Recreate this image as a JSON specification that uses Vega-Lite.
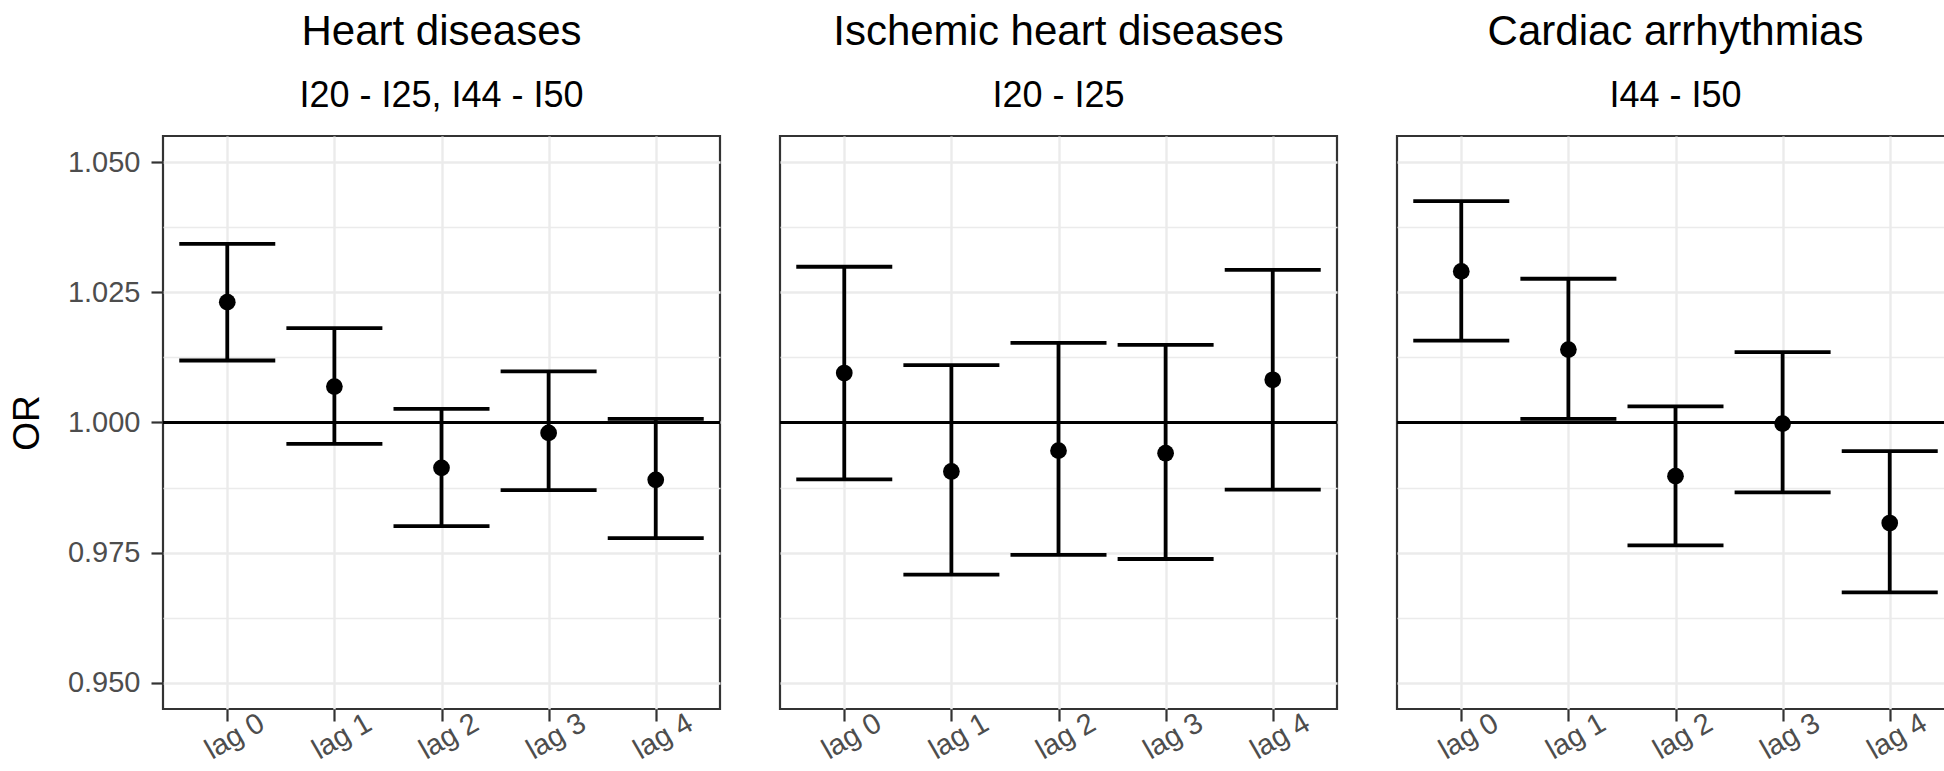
{
  "$schema": "https://vega.github.io/schema/vega-lite/v6.json",
  "background": "white",
  "padding": {"left": 6, "top": 9, "right": 5, "bottom": 3},
  "spacing": 54,
  "datasets": {
    "d": [
      {"panel": "Heart diseases", "lag": "lag 0", "lo": 1.0119, "or": 1.0231, "hi": 1.0343},
      {"panel": "Heart diseases", "lag": "lag 1", "lo": 0.9959, "or": 1.0069, "hi": 1.0181},
      {"panel": "Heart diseases", "lag": "lag 2", "lo": 0.9801, "or": 0.9913, "hi": 1.0026},
      {"panel": "Heart diseases", "lag": "lag 3", "lo": 0.9870, "or": 0.9980, "hi": 1.0098},
      {"panel": "Heart diseases", "lag": "lag 4", "lo": 0.9778, "or": 0.9890, "hi": 1.0007},
      {"panel": "Ischemic heart diseases", "lag": "lag 0", "lo": 0.9891, "or": 1.0095, "hi": 1.0299},
      {"panel": "Ischemic heart diseases", "lag": "lag 1", "lo": 0.9708, "or": 0.9906, "hi": 1.0110},
      {"panel": "Ischemic heart diseases", "lag": "lag 2", "lo": 0.9746, "or": 0.9946, "hi": 1.0153},
      {"panel": "Ischemic heart diseases", "lag": "lag 3", "lo": 0.9738, "or": 0.9941, "hi": 1.0149},
      {"panel": "Ischemic heart diseases", "lag": "lag 4", "lo": 0.9871, "or": 1.0082, "hi": 1.0293},
      {"panel": "Cardiac arrhythmias", "lag": "lag 0", "lo": 1.0157, "or": 1.0290, "hi": 1.0425},
      {"panel": "Cardiac arrhythmias", "lag": "lag 1", "lo": 1.0007, "or": 1.0140, "hi": 1.0276},
      {"panel": "Cardiac arrhythmias", "lag": "lag 2", "lo": 0.9764, "or": 0.9897, "hi": 1.0031},
      {"panel": "Cardiac arrhythmias", "lag": "lag 3", "lo": 0.9866, "or": 0.9998, "hi": 1.0135},
      {"panel": "Cardiac arrhythmias", "lag": "lag 4", "lo": 0.9674, "or": 0.9807, "hi": 0.9945}
    ]
  },
  "hconcat": [
    {
      "width": 557, "height": 573,
      "title": {"text": "Heart diseases", "subtitle": "I20 - I25, I44 - I50"},
      "data": {"name": "d"},
      "transform": [{"filter": "datum.panel == 'Heart diseases'"}],
      "layer": [
        {
          "mark": {"type": "rule", "color": "black", "strokeWidth": 3},
          "encoding": {
            "y": {"datum": 1, "type": "quantitative", "title": "OR",
              "scale": {"domain": [0.945, 1.055], "nice": false, "zero": false},
              "axis": {
                "values": [0.95, 0.9625, 0.975, 0.9875, 1, 1.0125, 1.025, 1.0375, 1.05],
                "labelExpr": "round(datum.value*1000) % 25 == 0 ? format(datum.value, '.3f') : ''",
                "tickOpacity": {"condition": {"test": "round(datum.value*1000) % 25 != 0", "value": 0}, "value": 1},
                "gridWidth": {"condition": {"test": "round(datum.value*1000) % 25 != 0", "value": 1.3}, "value": 2.4},
                "grid": true, "tickSize": 12, "labelPadding": 11,
                "minExtent": 96, "maxExtent": 96, "titlePadding": 21
              }
            }
          }
        },
        {
          "mark": {"type": "rule", "color": "black", "strokeWidth": 3.8},
          "encoding": {
            "x": {"field": "lag", "type": "ordinal", "title": null, "scale": {"type": "point", "padding": 0.6}},
            "y": {"field": "lo", "type": "quantitative", "title": "OR"},
            "y2": {"field": "hi"}
          }
        },
        {
          "mark": {"type": "tick", "color": "black", "size": 96, "thickness": 3.8, "opacity": 1},
          "encoding": {
            "x": {"field": "lag", "type": "ordinal", "title": null, "scale": {"type": "point", "padding": 0.6}},
            "y": {"field": "hi", "type": "quantitative", "title": "OR"}
          }
        },
        {
          "mark": {"type": "tick", "color": "black", "size": 96, "thickness": 3.8, "opacity": 1},
          "encoding": {
            "x": {"field": "lag", "type": "ordinal", "title": null, "scale": {"type": "point", "padding": 0.6}},
            "y": {"field": "lo", "type": "quantitative", "title": "OR"}
          }
        },
        {
          "mark": {"type": "circle", "color": "black", "size": 280, "opacity": 1},
          "encoding": {
            "x": {"field": "lag", "type": "ordinal", "title": null, "scale": {"type": "point", "padding": 0.6}},
            "y": {"field": "or", "type": "quantitative", "title": "OR"}
          }
        }
      ]
    },
    {
      "width": 557, "height": 573,
      "title": {"text": "Ischemic heart diseases", "subtitle": "I20 - I25"},
      "data": {"name": "d"},
      "transform": [{"filter": "datum.panel == 'Ischemic heart diseases'"}],
      "layer": [
        {
          "mark": {"type": "rule", "color": "black", "strokeWidth": 3},
          "encoding": {
            "y": {"datum": 1, "type": "quantitative", "title": null,
              "scale": {"domain": [0.945, 1.055], "nice": false, "zero": false},
              "axis": {
                "values": [0.95, 0.9625, 0.975, 0.9875, 1, 1.0125, 1.025, 1.0375, 1.05],
                "labels": false, "ticks": false,
                "gridWidth": {"condition": {"test": "round(datum.value*1000) % 25 != 0", "value": 1.3}, "value": 2.4},
                "grid": true
              }
            }
          }
        },
        {
          "mark": {"type": "rule", "color": "black", "strokeWidth": 3.8},
          "encoding": {
            "x": {"field": "lag", "type": "ordinal", "title": null, "scale": {"type": "point", "padding": 0.6}},
            "y": {"field": "lo", "type": "quantitative", "title": null},
            "y2": {"field": "hi"}
          }
        },
        {
          "mark": {"type": "tick", "color": "black", "size": 96, "thickness": 3.8, "opacity": 1},
          "encoding": {
            "x": {"field": "lag", "type": "ordinal", "title": null, "scale": {"type": "point", "padding": 0.6}},
            "y": {"field": "hi", "type": "quantitative", "title": null}
          }
        },
        {
          "mark": {"type": "tick", "color": "black", "size": 96, "thickness": 3.8, "opacity": 1},
          "encoding": {
            "x": {"field": "lag", "type": "ordinal", "title": null, "scale": {"type": "point", "padding": 0.6}},
            "y": {"field": "lo", "type": "quantitative", "title": null}
          }
        },
        {
          "mark": {"type": "circle", "color": "black", "size": 280, "opacity": 1},
          "encoding": {
            "x": {"field": "lag", "type": "ordinal", "title": null, "scale": {"type": "point", "padding": 0.6}},
            "y": {"field": "or", "type": "quantitative", "title": null}
          }
        }
      ]
    },
    {
      "width": 557, "height": 573,
      "title": {"text": "Cardiac arrhythmias", "subtitle": "I44 - I50"},
      "data": {"name": "d"},
      "transform": [{"filter": "datum.panel == 'Cardiac arrhythmias'"}],
      "layer": [
        {
          "mark": {"type": "rule", "color": "black", "strokeWidth": 3},
          "encoding": {
            "y": {"datum": 1, "type": "quantitative", "title": null,
              "scale": {"domain": [0.945, 1.055], "nice": false, "zero": false},
              "axis": {
                "values": [0.95, 0.9625, 0.975, 0.9875, 1, 1.0125, 1.025, 1.0375, 1.05],
                "labels": false, "ticks": false,
                "gridWidth": {"condition": {"test": "round(datum.value*1000) % 25 != 0", "value": 1.3}, "value": 2.4},
                "grid": true
              }
            }
          }
        },
        {
          "mark": {"type": "rule", "color": "black", "strokeWidth": 3.8},
          "encoding": {
            "x": {"field": "lag", "type": "ordinal", "title": null, "scale": {"type": "point", "padding": 0.6}},
            "y": {"field": "lo", "type": "quantitative", "title": null},
            "y2": {"field": "hi"}
          }
        },
        {
          "mark": {"type": "tick", "color": "black", "size": 96, "thickness": 3.8, "opacity": 1},
          "encoding": {
            "x": {"field": "lag", "type": "ordinal", "title": null, "scale": {"type": "point", "padding": 0.6}},
            "y": {"field": "hi", "type": "quantitative", "title": null}
          }
        },
        {
          "mark": {"type": "tick", "color": "black", "size": 96, "thickness": 3.8, "opacity": 1},
          "encoding": {
            "x": {"field": "lag", "type": "ordinal", "title": null, "scale": {"type": "point", "padding": 0.6}},
            "y": {"field": "lo", "type": "quantitative", "title": null}
          }
        },
        {
          "mark": {"type": "circle", "color": "black", "size": 280, "opacity": 1},
          "encoding": {
            "x": {"field": "lag", "type": "ordinal", "title": null, "scale": {"type": "point", "padding": 0.6}},
            "y": {"field": "or", "type": "quantitative", "title": null}
          }
        }
      ]
    }
  ],
  "config": {
    "font": "Liberation Sans",
    "view": {"stroke": "#333333", "strokeWidth": 2.2},
    "axis": {
      "domain": false,
      "labelFont": "Liberation Sans", "labelFontSize": 29, "labelColor": "#4D4D4D",
      "tickColor": "#333333", "tickWidth": 2.2, "tickSize": 12,
      "gridColor": "#EBEBEB", "gridWidth": 2.4,
      "titleFont": "Liberation Sans", "titleFontSize": 37, "titleFontWeight": "normal", "titleColor": "black"
    },
    "axisX": {"labelAngle": -30, "labelAlign": "center", "labelBaseline": "middle", "labelPadding": 15, "labelOffset": 7, "grid": true},
    "title": {
      "font": "Liberation Sans", "fontSize": 42, "fontWeight": "normal", "color": "black",
      "subtitleFont": "Liberation Sans", "subtitleFontSize": 36, "subtitleColor": "black",
      "anchor": "middle", "frame": "group", "offset": 21, "subtitlePadding": 25
    }
  }
}
